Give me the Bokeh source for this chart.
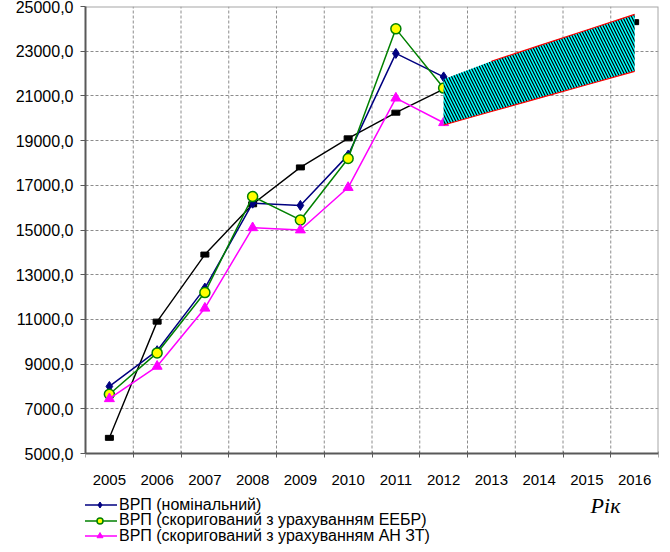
import math
from bokeh.plotting import figure
from bokeh.models import Range1d, FixedTicker, Legend, LegendItem, Label
from bokeh.embed import file_html
from bokeh.resources import INLINE

nan = float("nan")

# ---- data ----
years = list(range(2005, 2017))
hist_years = years[:8]
vrp_nominal = [8000, 9600, 12400, 16200, 16100, 18350, 22900, 21850]
vrp_eebr = [7650, 9500, 12200, 16500, 15450, 18200, 24000, 21350]
vrp_anzt = [7450, 8900, 11500, 15100, 15000, 16900, 20900, 19800]
trend = [5700, 10900, 13900, 16150, 17800, 19100, 20250, 21300, nan, nan, nan, 24300]
band_years = years[7:]
band_upper = [21750, 22550, 23250, 23950, 24650]
band_lower = [19700, 20300, 20900, 21500, 22100]
y_ticks = list(range(5000, 25001, 2000))
x_labels = [str(y) for y in years]
legend_labels = ["ВРП (номінальний)",
                 "ВРП (скоригований з урахуванням ЕЕБР)",
                 "ВРП (скоригований з урахуванням АН ЗТ)"]
axis_title = "Рік"

FONT = "Liberation Sans"

# ---- layout constants (pixels) ----
W, H = 662, 544
TOP, LEFT, RIGHT = 6, 85, 4
BELOW = 91                      # space under the value axis for labels + legend
frame_h = H - TOP
y_lo, y_hi = y_ticks[0], y_ticks[-1]
y_start = y_lo - BELOW * (y_hi - y_lo) / (frame_h - BELOW)
x_lo, x_hi = years[0] - 0.5, years[-1] + 0.5

p = figure(width=W, height=H, output_backend="svg", toolbar_location=None,
           x_range=Range1d(x_lo, x_hi), y_range=Range1d(y_start, y_hi),
           min_border_left=LEFT, min_border_right=RIGHT, min_border_top=TOP,
           min_border_bottom=0)
p.background_fill_color = "white"
p.border_fill_color = "white"
p.outline_line_color = None
p.xgrid.visible = False

# x axis (drawn at the 5000 level)
bounds = [y - 0.5 for y in years] + [x_hi]
xa = p.xaxis[0]
xa.fixed_location = y_lo
xa.ticker = FixedTicker(ticks=years, minor_ticks=bounds)
xa.major_label_overrides = {y: s for y, s in zip(years, x_labels)}
xa.major_tick_line_color = None
xa.major_tick_out = 0
xa.major_tick_in = 0
xa.minor_tick_line_color = "#595959"
xa.minor_tick_out = 4
xa.minor_tick_in = 2
xa.axis_line_color = "#595959"
xa.axis_line_width = 2
xa.major_label_standoff = 17
xa.major_label_text_font = FONT
xa.major_label_text_font_size = "15px"
xa.major_label_text_color = "black"

# y axis
ya = p.yaxis[0]
ya.bounds = (y_lo, y_hi)
ya.ticker = FixedTicker(ticks=y_ticks)
ya.major_label_overrides = {v: f"{v},0" for v in y_ticks}
ya.major_tick_out = 5
ya.major_tick_in = 0
ya.major_tick_line_color = "#595959"
ya.minor_tick_line_color = None
ya.axis_line_color = "#595959"
ya.axis_line_width = 2
ya.major_label_standoff = 7
ya.major_label_text_font = FONT
ya.major_label_text_font_size = "16px"
ya.major_label_text_color = "black"

# grids
p.ygrid.ticker = FixedTicker(ticks=y_ticks[1:-1])
p.ygrid.grid_line_color = "#8c8c8c"
p.ygrid.grid_line_dash = "3 2"
gx = bounds[1:-1]
p.segment(x0=gx, y0=[y_lo] * len(gx), x1=gx, y1=[y_hi] * len(gx),
          line_color="#8c8c8c", line_dash="3 2", line_width=1)

# top / right border of the plot area
p.line(x=[x_lo, x_hi, x_hi], y=[y_hi, y_hi, y_lo], line_color="#a6a6a6", line_width=2)

# trend (black)
p.line(years, trend, line_color="black", line_width=1.4)
p.rect(years, trend, width=8, height=5, width_units="screen", height_units="screen",
       fill_color="black", line_color="black")

# series
l1 = p.line(hist_years, vrp_nominal, line_color="#000080", line_width=1.5)
s1 = p.scatter(hist_years, vrp_nominal, marker="diamond", size=10,
               fill_color="#000080", line_color="#000080")
l2 = p.line(hist_years, vrp_eebr, line_color="#008000", line_width=1.5)
s2 = p.scatter(hist_years, vrp_eebr, marker="circle", size=10,
               fill_color="#ffff00", line_color="#008000", line_width=1.5)
l3 = p.line(hist_years, vrp_anzt, line_color="#ff00ff", line_width=1.5)
s3 = p.scatter(hist_years, vrp_anzt, marker="triangle", size=10,
               fill_color="#ff00ff", line_color="#ff00ff")

# forecast band
p.varea(x=band_years, y1=band_lower, y2=band_upper, fill_color="#00ffff",
        hatch_pattern="left_diagonal_line", hatch_color="black",
        hatch_scale=6, hatch_weight=1.2)
p.line(band_years[1:], band_upper[1:], line_color="red", line_width=1.2)
p.line(band_years, band_lower, line_color="red", line_width=1.2)

# legend rows under the axis
rows = [(l1, s1), (l2, s2), (l3, s3)]
row_bottoms = [30.5, 15, -0.5]
for lab, rs, vy in zip(legend_labels, rows, row_bottoms):
    lg = Legend(items=[LegendItem(label=lab, renderers=list(rs))],
                location=(-3, vy), padding=0, margin=0, spacing=0,
                glyph_width=35, glyph_height=15, label_height=15, label_standoff=2,
                label_text_font=FONT, label_text_font_size="16px",
                label_text_line_height=0.95, label_text_color="black",
                border_line_color=None, background_fill_alpha=0)
    p.add_layout(lg, "center")

p.add_layout(Label(x=520, y=39, x_units="screen", y_units="screen", text=axis_title,
                   text_font="Liberation Serif", text_font_style="italic",
                   text_font_size="22px", text_align="center", text_baseline="middle",
                   text_color="black"))

open("out.html", "w").write(file_html(p, INLINE))
